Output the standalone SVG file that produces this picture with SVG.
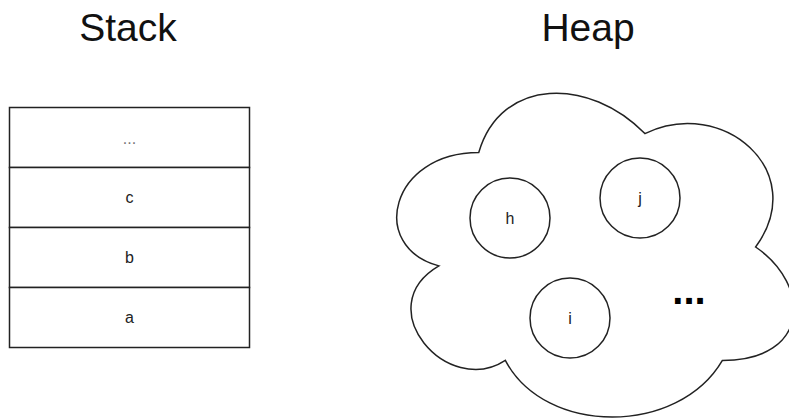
<svg xmlns="http://www.w3.org/2000/svg" width="789" height="418" viewBox="0 0 789 418">
<style>
.shape{fill:#fff;stroke:#222;stroke-width:1.5}
.title{font-family:"Liberation Sans",Arial,sans-serif;font-size:39px;fill:#111;text-anchor:middle}
.lbl{font-family:"Liberation Sans",Arial,sans-serif;font-size:16px;fill:#222;text-anchor:middle}
.dots{font-family:"Liberation Sans",Arial,sans-serif;font-size:40px;font-weight:bold;fill:#000;text-anchor:middle}
</style>
<rect width="789" height="418" fill="#fff"/>
<g id="title-stack"><text class="title" x="128" y="41">Stack</text></g>
<g id="title-heap"><text class="title" x="588" y="41">Heap</text></g>
<g id="stack">
  <g id="cell-more"><rect class="shape" x="9.5" y="107.5" width="240" height="60"/><text class="lbl" x="129.5" y="144" style="fill:#777">...</text></g>
  <g id="cell-c"><rect class="shape" x="9.5" y="167.5" width="240" height="60"/><text class="lbl" x="129.5" y="203">c</text></g>
  <g id="cell-b"><rect class="shape" x="9.5" y="227.5" width="240" height="60"/><text class="lbl" x="129.5" y="263">b</text></g>
  <g id="cell-a"><rect class="shape" x="9.5" y="287.5" width="240" height="60"/><text class="lbl" x="129.5" y="323">a</text></g>
</g>
<g id="heap">
  <path class="shape" d="M478.75 152.5 C390.15 152.5 368 247 438.88 265.9 C368 307.48 447.74 398.2 505.33 360.4 C545.2 436 678.1 436 722.4 360.4 C811 360.4 811 284.8 755.6 247 C811 171.4 722.4 95.8 644.9 133.6 C589.5 76.9 500.9 76.9 478.75 152.5 Z"/>
</g>
<g id="obj-h"><circle class="shape" cx="510" cy="218" r="40"/><text class="lbl" x="510" y="223.5">h</text></g>
<g id="obj-j"><circle class="shape" cx="640" cy="198" r="40"/><text class="lbl" x="640" y="203.5">j</text></g>
<g id="obj-i"><circle class="shape" cx="570" cy="318" r="40"/><text class="lbl" x="570" y="323.5">i</text></g>
<g id="obj-more"><text class="dots" x="689" y="304">...</text></g>
<g id="connectors"/>
</svg>
